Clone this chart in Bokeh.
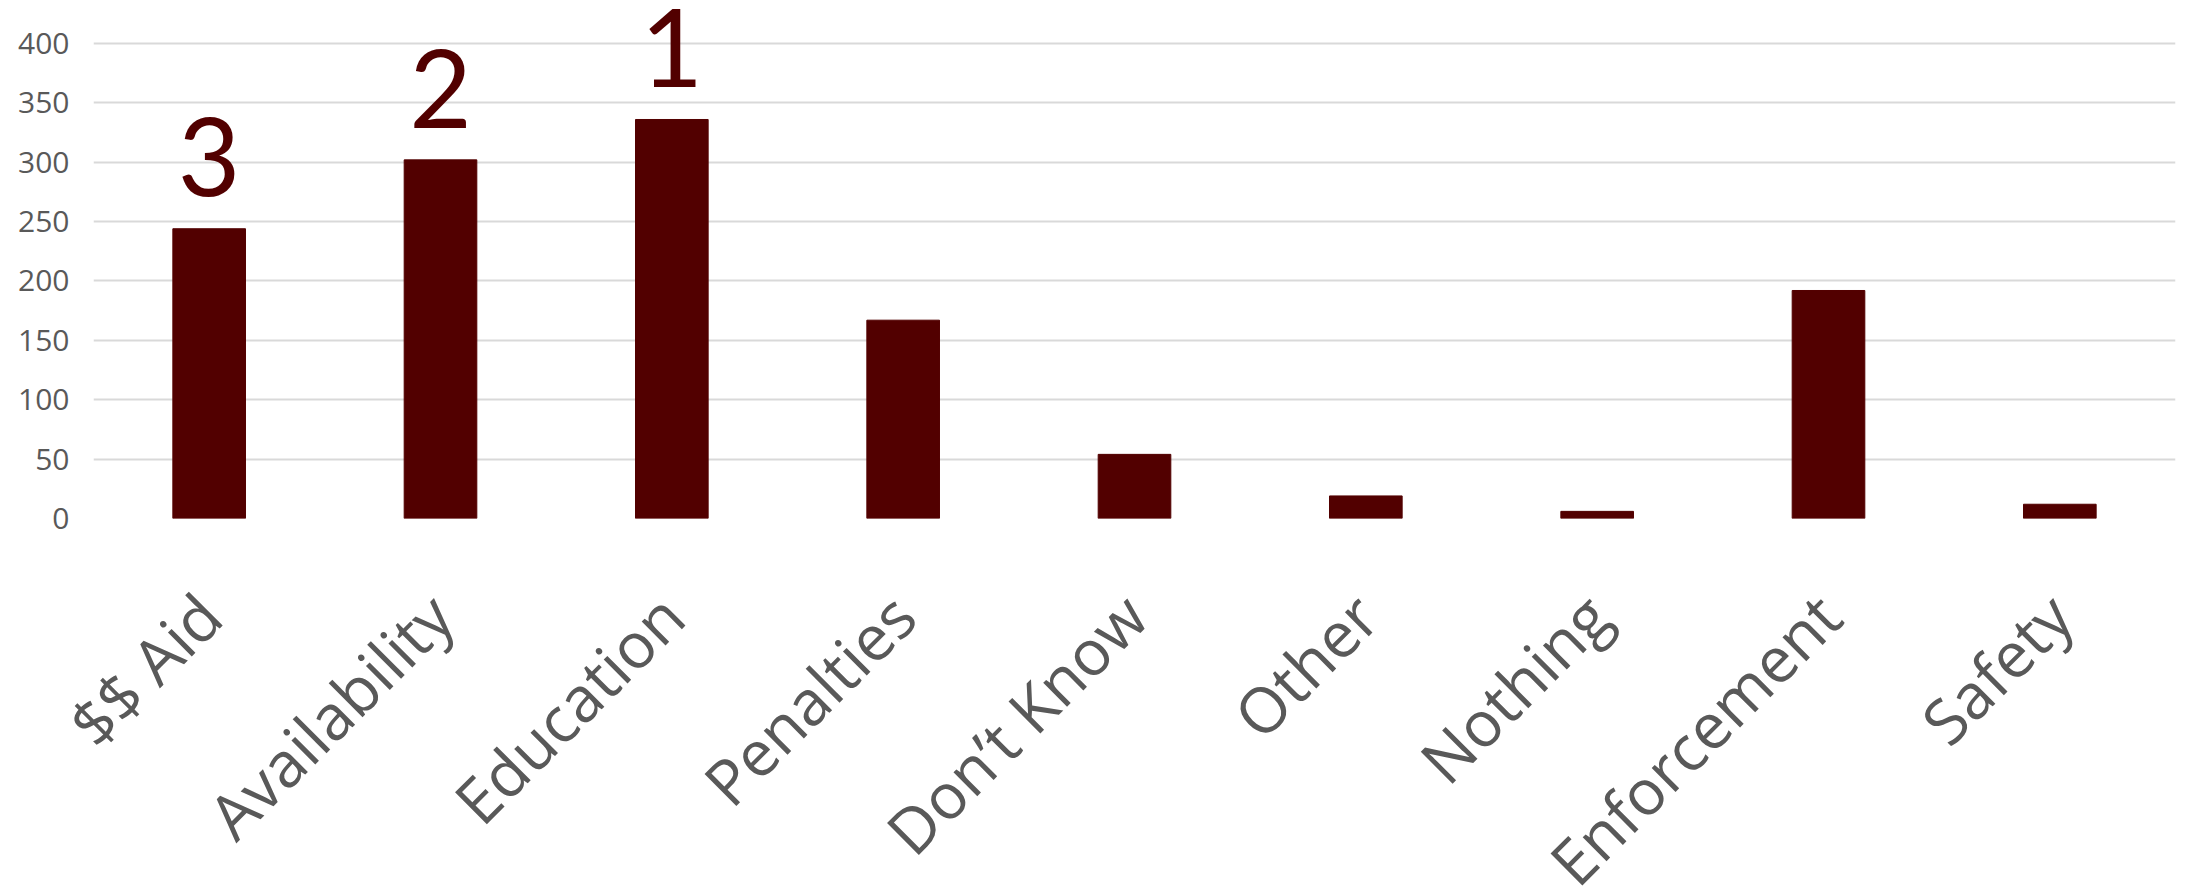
import math
from bokeh.plotting import figure
from bokeh.models import FixedTicker, Range1d, FactorRange
from bokeh.core.properties import value
from bokeh.embed import file_html
from bokeh.resources import INLINE

categories = ["$$ Aid", "Availability", "Education", "Penalties", "Don\u2019t Know",
              "Other", "Nothing", "Enforcement", "Safety"]
counts = [244, 302, 336, 167, 54, 19, 6, 192, 12]
rank_labels = ["3", "2", "1"]
y_ticks = [0, 50, 100, 150, 200, 250, 300, 350, 400]

BAR = "#520000"
GRAY = "#595959"

p = figure(x_range=FactorRange(*categories), y_range=Range1d(0, 436.2),
           frame_width=2082, frame_height=518,
           min_border_left=93, min_border_right=4, min_border_top=0, min_border_bottom=0,
           output_backend="svg", toolbar_location=None)

p.vbar(x=categories, top=counts, width=0.314, fill_color=BAR, line_color=BAR)

rank_x = categories[:len(rank_labels)]
rank_y = [c + 60 for c in counts[:len(rank_labels)]]
p.text(x=rank_x, y=rank_y, text=rank_labels, text_font=value("Lato"),
       text_font_size="108px", text_color=BAR, text_align="center",
       text_baseline="alphabetic")

p.outline_line_color = None
p.background_fill_color = "white"
p.border_fill_color = "white"
p.xgrid.grid_line_color = None
p.ygrid.grid_line_color = "#d9d9d9"
p.ygrid.grid_line_width = 2
p.yaxis.ticker = FixedTicker(ticks=y_ticks)

for ax in (p.xaxis[0], p.yaxis[0]):
    ax.axis_line_color = None
    ax.major_tick_line_color = None
    ax.minor_tick_line_color = None
    ax.major_label_text_color = GRAY
    ax.major_label_text_font = "Open Sans"

p.yaxis.major_label_text_font_size = "30px"
p.yaxis.major_label_standoff = 18
p.xaxis.major_label_text_font_size = "63px"
p.xaxis.major_label_orientation = math.pi / 4
p.xaxis.major_label_standoff = 80

open("out.html", "w").write(file_html(p, INLINE))
